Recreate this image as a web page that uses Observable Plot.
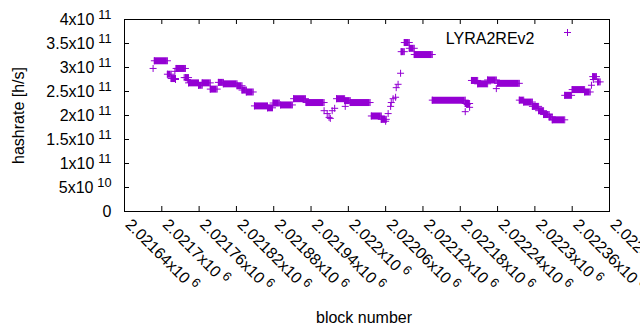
<!DOCTYPE html>
<html>
<head>
<meta charset="utf-8">
<script src="https://cdn.jsdelivr.net/npm/d3@7"></script>
<script src="https://cdn.jsdelivr.net/npm/@observablehq/plot@0.6"></script>
<style>
  html, body { margin: 0; padding: 0; background: #fff; }
  #chart svg { display: block; }
</style>
</head>
<body>
<div id="chart"></div>
<script>
// ---- data ----
const seriesName = "LYRA2REv2";
// runs of consecutive blocks with a constant hashrate estimate
const runStart = [2021688, 2021709, 2021715, 2021723, 2021738, 2021743, 2021759, 2021765, 2021778, 2021791,
  2021799, 2021821, 2021829, 2021836, 2021849, 2021870, 2021879, 2021891, 2021912, 2021932,
  2021981, 2021994, 2022003, 2022037, 2022053, 2022085, 2022090, 2022098, 2022106, 2022135,
  2022188, 2022198, 2022208, 2022224, 2022240, 2022275, 2022282, 2022296, 2022306, 2022314,
  2022323, 2022328, 2022348, 2022360, 2022380, 2022393, 2022401];
const runEnd = [2021709, 2021715, 2021722, 2021738, 2021743, 2021759, 2021765, 2021778, 2021789, 2021799,
  2021821, 2021829, 2021836, 2021847, 2021870, 2021878, 2021889, 2021910, 2021931, 2021961,
  2021994, 2022003, 2022035, 2022053, 2022061, 2022090, 2022098, 2022106, 2022135, 2022188,
  2022195, 2022208, 2022224, 2022238, 2022275, 2022282, 2022296, 2022306, 2022314, 2022323,
  2022328, 2022348, 2022359, 2022380, 2022389, 2022399, 2022405];
const runHashrate = [3.14e11, 2.86e11, 2.77e11, 2.98e11, 2.79e11, 2.68e11, 2.63e11, 2.68e11, 2.55e11, 2.69e11,
  2.66e11, 2.62e11, 2.53e11, 2.49e11, 2.20e11, 2.16e11, 2.26e11, 2.22e11, 2.35e11, 2.27e11,
  2.35e11, 2.31e11, 2.27e11, 1.99e11, 1.92e11, 3.33e11, 3.52e11, 3.40e11, 3.27e11, 2.32e11,
  2.25e11, 2.73e11, 2.66e11, 2.74e11, 2.67e11, 2.32e11, 2.28e11, 2.19e11, 2.10e11, 2.02e11,
  1.97e11, 1.91e11, 2.42e11, 2.54e11, 2.49e11, 2.81e11, 2.70e11];
// single blocks
const pointBlock = [2021686, 2021721, 2021722, 2021736, 2021741, 2021961, 2021966, 2021969, 2021971, 2021974,
  2021978, 2021995, 2022060, 2022064, 2022068, 2022069, 2022072, 2022076, 2022077, 2022080,
  2022084, 2022188, 2022191, 2022195, 2022238, 2022391, 2022394];
const pointHashrate = [2.98e11, 2.92e11, 2.75e11, 2.79e11, 2.75e11, 2.10e11, 2.04e11, 1.96e11, 1.94e11, 2.10e11,
  2.15e11, 2.19e11, 1.88e11, 2.04e11, 2.19e11, 2.27e11, 2.35e11, 2.38e11, 2.58e11, 2.65e11,
  2.88e11, 2.08e11, 2.23e11, 2.17e11, 2.56e11, 2.63e11, 2.75e11];

const xTicks = [2021640, 2021700, 2021760, 2021820, 2021880, 2021940, 2022000, 2022060, 2022120, 2022180, 2022240, 2022300, 2022360, 2022420];
const xTickLabels = ["2.02164x10^6", "2.0217x10^6", "2.02176x10^6", "2.02182x10^6", "2.02188x10^6", "2.02194x10^6", "2.022x10^6",
  "2.02206x10^6", "2.02212x10^6", "2.02218x10^6", "2.02224x10^6", "2.0223x10^6", "2.02236x10^6", "2.02242x10^6"];
const yTicks = [0, 5e10, 1e11, 1.5e11, 2e11, 2.5e11, 3e11, 3.5e11, 4e11];
const yTickLabels = ["0", "5x10^10", "1x10^11", "1.5x10^11", "2x10^11", "2.5x10^11", "3x10^11", "3.5x10^11", "4x10^11"];
const xLabel = "block number";
const yLabel = "hashrate [h/s]";

// ---- build ----
const runs = runStart.map((s, i) => ({start: s, end: runEnd[i], h: runHashrate[i]}));
const points = pointBlock.map((b, i) => ({b, h: pointHashrate[i]}));
const xt = xTicks.map((v, i) => ({v, label: xTickLabels[i]}));
const yt = yTicks.map((v, i) => ({v, label: yTickLabels[i]}));

const color = "#9400d3";
const plus = {draw(ctx) { const r = 3.5; ctx.moveTo(-r, 0); ctx.lineTo(r, 0); ctx.moveTo(0, -r); ctx.lineTo(0, r); }};
const W = 640, H = 330, mL = 124, mR = 31, mT = 19, mB = 119;
const iW = W - mL - mR, iH = H - mT - mB;
const tk = 5;
const fs = 16;

const chart = Plot.plot({
  width: W, height: H,
  marginLeft: mL, marginRight: mR, marginTop: mT, marginBottom: mB,
  x: {domain: [xTicks[0], xTicks[xTicks.length - 1]], axis: null},
  y: {domain: [yTicks[0], yTicks[yTicks.length - 1]], axis: null},
  style: {fontFamily: "'Liberation Sans', Arial, sans-serif", color: "black", background: "white"},
  marks: [
    // ticks (inward, mirrored)
    Plot.tickY(yt, {y: "v", insetRight: iW - tk, stroke: "black"}),
    Plot.tickY(yt, {y: "v", insetLeft: iW - tk, stroke: "black"}),
    Plot.tickX(xt, {x: "v", insetTop: iH - tk, stroke: "black"}),
    Plot.tickX(xt, {x: "v", insetBottom: iH - tk, stroke: "black"}),
    // tick labels
    Plot.text(yt, {y: "v", text: "label", frameAnchor: "left", textAnchor: "end", dx: -13, fontSize: fs}),
    Plot.text(xt, {x: "v", text: "label", frameAnchor: "bottom", textAnchor: "start", rotate: 45, dx: 0, dy: 14, fontSize: fs}),
    // axis titles
    Plot.text([xLabel], {text: d => d, frameAnchor: "bottom", textAnchor: "middle", dx: -3, dy: 111, fontSize: fs}),
    Plot.text([yLabel], {text: d => d, frameAnchor: "left", textAnchor: "middle", dx: -106, rotate: -90, fontSize: fs}),
    // data
    Plot.ruleY(runs, {x1: "start", x2: "end", y: "h", stroke: color, strokeWidth: 7}),
    Plot.dot(runs, {x: "start", y: "h", symbol: plus, r: 3, fill: "none", stroke: color, strokeWidth: 1}),
    Plot.dot(runs, {x: "end", y: "h", symbol: plus, r: 3, fill: "none", stroke: color, strokeWidth: 1}),
    Plot.dot(points, {x: "b", y: "h", symbol: plus, r: 3, fill: "none", stroke: color, strokeWidth: 1}),
    // legend
    Plot.text([seriesName], {text: d => d, frameAnchor: "top-right", textAnchor: "end", dx: -75, dy: 13, fontSize: fs}),
    Plot.dot([seriesName], {frameAnchor: "top-right", dx: -42, dy: 13, symbol: plus, r: 3, fill: "none", stroke: color, strokeWidth: 1}),
    Plot.frame({stroke: "black", strokeWidth: 1})
  ]
});

// superscripts for "a^b" labels
d3.select(chart).selectAll("text").each(function () {
  const s = this.textContent;
  const i = s.indexOf("^");
  if (i < 0) return;
  const el = d3.select(this);
  el.text(null);
  el.append("tspan").text(s.slice(0, i));
  el.append("tspan").attr("dx", "0.3em").attr("dy", "-0.45em").attr("font-size", "0.8em").text(s.slice(i + 1));
});

document.getElementById("chart").appendChild(chart);
</script>
</body>
</html>
